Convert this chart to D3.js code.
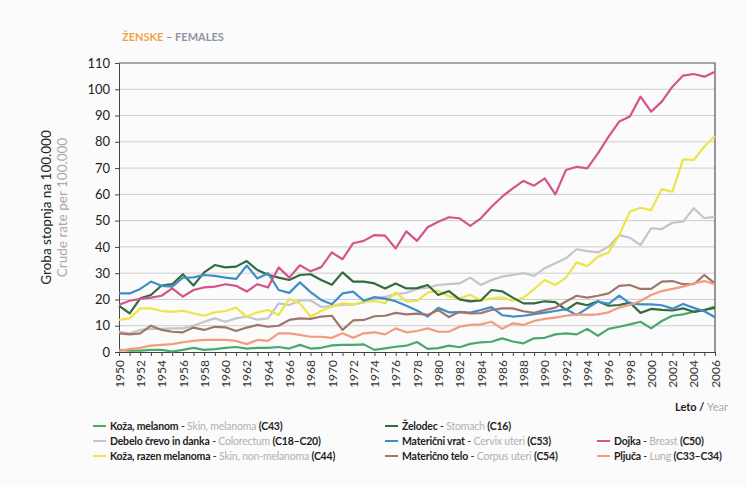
<!DOCTYPE html>
<html>
<head>
<meta charset="utf-8">
<script src="https://cdn.jsdelivr.net/npm/d3@7/dist/d3.min.js"></script>
<style>
  html, body { margin: 0; padding: 0; background: #fbfbfb; }
  svg { display: block; font-family: Lato, "Open Sans", sans-serif; }
</style>
</head>
<body>
<svg id="chart" width="746" height="486"></svg>
<script>
// Crude incidence rate per 100,000, females, 1950–2006
const years = d3.range(1950, 2007);
const yTicks = [0, 10, 20, 30, 40, 50, 60, 70, 80, 90, 100, 110];
const xLabelYears = d3.range(1950, 2007, 2);

const melanoma = [0.8,0.5,0.5,0.8,0.8,0.2,0.8,1.6,0.8,1.1,1.6,1.9,1.3,1.6,1.6,1.9,1.3,2.7,1.3,1.6,
  2.5,2.7,2.7,2.9,0.8,1.4,2.0,2.4,3.8,1.2,1.5,2.4,1.8,3.1,3.7,3.9,5.2,4.0,3.3,5.2,
  5.4,6.7,7.1,6.7,8.8,6.2,8.8,9.6,10.5,11.5,9.0,11.8,13.8,14.3,15.3,16.0,17.3];
const colorectum = [7.7,7.1,8.4,8.8,8.8,9.0,9.0,10.0,11.5,12.8,11.5,12.8,13.5,12.3,12.8,18.5,17.9,19.6,19.6,17.2,
  17.5,17.9,18.0,18.9,20.4,21.0,22.0,22.5,24.0,24.5,25.5,25.8,26.1,28.3,25.5,27.4,28.7,29.3,30.0,29.0,
  31.9,33.8,35.7,39.1,38.4,37.9,40.1,44.5,43.5,40.7,47.1,46.8,49.2,49.6,54.7,50.9,51.5];
const skinNonMel = [12.2,12.8,16.6,16.6,15.6,15.3,15.7,14.7,13.8,15.1,15.6,16.9,13.4,15.1,16.0,14.1,20.2,18.5,13.5,15.6,
  17.3,18.5,18.1,19.2,19.4,18.6,22.7,19.2,19.5,22.6,23.3,21.2,20.4,21.8,19.5,20.4,20.8,19.5,20.7,23.9,
  27.4,25.5,28.3,34.1,32.7,36.3,37.9,44.5,53.4,54.9,54.0,62.0,61.0,73.3,73.1,78.2,82.2];
const stomach = [17.6,14.7,20.4,21.7,25.3,25.8,29.6,25.3,30.3,33.1,32.2,32.5,34.6,31.2,29.4,28.3,27.4,29.3,29.6,27.4,
  25.6,30.3,26.8,26.8,26.1,24.2,26.1,24.2,24.3,25.5,21.7,23.2,20.0,19.3,19.6,23.6,23.1,20.7,18.5,18.5,
  19.3,19.0,16.0,18.7,17.8,19.3,17.6,17.9,18.8,14.9,16.4,16.0,15.8,16.6,15.3,16.0,16.8];
const cervix = [22.3,22.3,24.0,26.8,25.2,24.9,28.3,28.4,29.3,29.0,28.3,27.8,32.9,28.0,30.0,23.6,22.5,26.5,22.8,19.8,
  18.2,22.3,23.0,19.5,20.9,20.3,19.3,17.6,15.8,13.5,16.8,15.1,15.2,15.0,16.0,17.1,14.0,13.5,13.8,14.4,
  15.0,15.6,16.3,14.1,16.6,19.2,18.3,21.5,18.5,18.1,18.1,17.8,16.5,18.3,16.8,15.5,13.2];
const corpus = [7.1,6.7,7.1,10.0,8.4,7.7,7.5,9.3,8.4,9.6,9.4,8.0,9.3,10.3,9.6,10.0,12.2,12.8,12.6,13.5,
  13.8,8.4,12.0,12.2,13.6,13.8,14.9,14.3,14.6,14.1,16.0,13.3,15.3,14.7,14.8,16.0,16.6,16.6,15.5,14.9,
  16.0,16.9,19.2,21.4,20.7,21.4,22.3,25.2,25.5,24.0,24.0,26.8,27.0,25.8,25.8,29.3,26.1];
const breast = [18.0,19.5,20.2,20.7,21.4,24.2,21.1,23.6,24.6,24.9,25.8,25.2,23.0,25.8,24.6,32.2,28.3,33.0,30.7,32.3,
  37.9,35.3,41.4,42.3,44.5,44.3,39.4,45.9,42.3,47.5,49.6,51.3,50.9,48.0,50.9,55.3,59.1,62.3,65.1,63.3,
  66.1,60.0,69.3,70.5,69.9,75.6,82.0,87.7,89.6,97.2,91.5,95.3,101.0,105.2,105.8,104.8,106.7];
const lung = [0.4,1.1,1.6,2.4,2.7,3.0,3.7,4.2,4.6,4.6,4.6,4.2,3.0,4.6,4.2,7.1,7.1,6.5,5.8,5.8,
  5.4,7.1,5.4,7.1,7.5,6.7,9.0,7.5,8.0,9.0,7.7,7.7,9.6,10.3,10.5,11.5,8.8,10.9,10.3,11.8,
  12.6,13.1,13.8,14.3,14.1,14.3,15.1,16.9,17.9,19.4,21.7,23.2,24.0,24.9,26.1,27.0,25.8];

// series definitions: legend column/row, Slovenian name, English name, ICD code
const series = [
  { values: melanoma,   color: "#4aa86c", sl: "Koža, melanom",        en: "Skin, melanoma",     code: "(C43)",     col: 0, row: 0 },
  { values: colorectum, color: "#c4c4cc", sl: "Debelo črevo in danka", en: "Colorectum",        code: "(C18–C20)", col: 0, row: 1 },
  { values: skinNonMel, color: "#ebe646", sl: "Koža, razen melanoma", en: "Skin, non-melanoma", code: "(C44)",     col: 0, row: 2 },
  { values: stomach,    color: "#336b3e", sl: "Želodec",              en: "Stomach",            code: "(C16)",     col: 1, row: 0 },
  { values: cervix,     color: "#3f8fc6", sl: "Materični vrat",       en: "Cervix uteri",       code: "(C53)",     col: 1, row: 1 },
  { values: corpus,     color: "#a0766b", sl: "Materično telo",       en: "Corpus uteri",       code: "(C54)",     col: 1, row: 2 },
  { values: breast,     color: "#d4548c", sl: "Dojka",                en: "Breast",             code: "(C50)",     col: 2, row: 1 },
  { values: lung,       color: "#f29b7e", sl: "Pljuča",               en: "Lung",               code: "(C33–C34)", col: 2, row: 2 }
];

const svg = d3.select("#chart");
const plot = { left: 119, right: 715, top: 63, bottom: 352 };

const x = d3.scaleLinear().domain([1950, 2006]).range([plot.left, plot.right]);
const y = d3.scaleLinear().domain([0, 110]).range([plot.bottom, plot.top]);

// title
const title = svg.append("text").attr("x", 122).attr("y", 41)
  .attr("font-size", 11).attr("font-weight", 700);
title.append("tspan").attr("fill", "#f0a348").text("ŽENSKE");
title.append("tspan").attr("fill", "#8e93a0").text(" – FEMALES");

// horizontal grid
svg.append("g")
  .selectAll("line")
  .data(yTicks.filter(v => v > 0 && v < 110))
  .join("line")
  .attr("x1", plot.left).attr("x2", plot.right)
  .attr("y1", d => y(d)).attr("y2", d => y(d))
  .attr("stroke", "#cdcdd2").attr("stroke-width", 1);

// y axis
const yAxis = svg.append("g").attr("transform", `translate(${plot.left},0)`)
  .call(d3.axisLeft(y).tickValues(yTicks).tickSize(4).tickPadding(5));
yAxis.select(".domain").attr("stroke", "#444");
yAxis.selectAll(".tick line").attr("stroke", "#444");
yAxis.selectAll(".tick text").attr("font-size", 13).attr("fill", "#222")
  .attr("font-family", "Lato, sans-serif");

// x axis: tick every year, label every second year
const xAxis = svg.append("g").attr("transform", `translate(0,${plot.bottom})`)
  .call(d3.axisBottom(x).tickValues(years).tickSize(4).tickFormat(d => xLabelYears.includes(d) ? d : ""));
xAxis.select(".domain").attr("stroke", "#444");
xAxis.selectAll(".tick line").attr("stroke", "#444");
xAxis.selectAll(".tick text")
  .attr("font-size", 12).attr("fill", "#333").attr("font-family", "Lato, sans-serif")
  .attr("transform", "rotate(-90)")
  .attr("text-anchor", "end")
  .attr("x", -8).attr("y", 0).attr("dy", "0.35em");

// top and right frame
svg.append("path")
  .attr("d", `M${plot.left},${plot.top}H${plot.right}V${plot.bottom}`)
  .attr("fill", "none").attr("stroke", "#555").attr("stroke-width", 1.2);

// y axis titles
svg.append("text")
  .attr("transform", `translate(51,${(plot.top + plot.bottom) / 2}) rotate(-90)`)
  .attr("text-anchor", "middle").attr("font-size", 13.5).attr("fill", "#222")
  .text("Groba stopnja na 100.000");
svg.append("text")
  .attr("transform", `translate(67,${(plot.top + plot.bottom) / 2}) rotate(-90)`)
  .attr("text-anchor", "middle").attr("font-size", 13.5).attr("fill", "#a8a8ae")
  .text("Crude rate per 100.000");

// lines
const line = d3.line().x((d, i) => x(years[i])).y(d => y(d));
svg.append("g")
  .selectAll("path")
  .data(series)
  .join("path")
  .attr("d", d => line(d.values))
  .attr("fill", "none")
  .attr("stroke", d => d.color)
  .attr("stroke-width", 2.2)
  .attr("stroke-linejoin", "round");

// x axis caption
const cap = svg.append("text").attr("x", 728).attr("y", 411)
  .attr("text-anchor", "end").attr("font-size", 11);
cap.append("tspan").attr("fill", "#222").attr("font-weight", 700).text("Leto / ");
cap.append("tspan").attr("fill", "#a8a8ae").text("Year");

// legend
const colX = [93, 385, 597];
const rowY = [426, 441, 456];
const leg = svg.append("g").attr("font-size", 10.5);
series.forEach(s => {
  const gx = colX[s.col], gy = rowY[s.row];
  leg.append("line").attr("x1", gx).attr("x2", gx + 13).attr("y1", gy).attr("y2", gy)
    .attr("stroke", s.color).attr("stroke-width", 2);
  const t = leg.append("text").attr("x", gx + 17).attr("y", gy).attr("dy", "0.35em")
    .attr("letter-spacing", "-0.2");
  t.append("tspan").attr("fill", "#1e1e1e").attr("font-weight", 700).text(s.sl);
  t.append("tspan").attr("fill", "#1e1e1e").text(" - ");
  t.append("tspan").attr("fill", "#b0b0b6").text(s.en + " ");
  t.append("tspan").attr("fill", "#1e1e1e").attr("font-weight", 700).text(s.code);
});
</script>
</body>
</html>
